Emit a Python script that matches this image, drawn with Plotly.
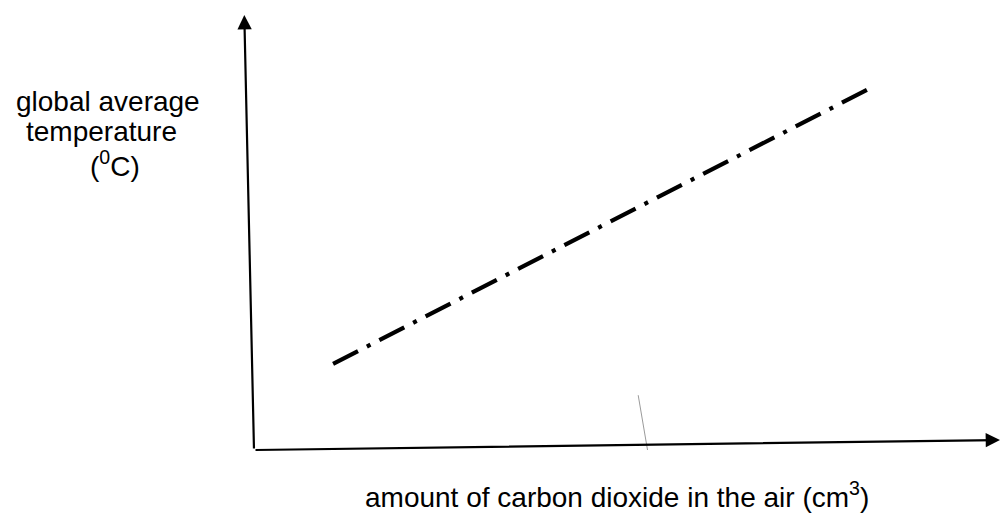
import plotly.graph_objects as go

# Sketch of the trend: CO2 amount (arbitrary units) vs global average temperature
co2_amount = [1.06, 8.32]
avg_temperature = [1.98, 8.37]

x_label = "amount of carbon dioxide in the air (cm<sup>3</sup>)"
y_label_lines = ["global average", "temperature", "(<sup>0</sup>C)"]

X_MAX, Y_MAX = 10, 10
FONT = "Liberation Sans, Arial, sans-serif"

fig = go.Figure()

fig.add_trace(go.Scatter(
    x=co2_amount, y=avg_temperature, mode="lines",
    line=dict(color="black", width=4.2, dash="28px,10px,4px,10px"),
    hoverinfo="skip", showlegend=False,
))

# Hand-drawn style axes with arrowheads
axis_arrow = dict(text="", showarrow=True, xref="x", yref="y", axref="x", ayref="y",
                  arrowhead=2, arrowsize=1.3, arrowwidth=2.2, arrowcolor="black",
                  standoff=0, startstandoff=0)
fig.add_annotation(x=X_MAX, y=0.23, ax=0, ay=0, **axis_arrow)
fig.add_annotation(x=-0.13, y=Y_MAX, ax=0, ay=0, **axis_arrow)

# faint pencil stroke crossing the x axis
fig.add_shape(type="line", x0=5.15, y0=1.26, x1=5.28, y1=-0.05,
              xref="x", yref="y", line=dict(color="#9a9a9a", width=1))

# axis titles
fig.add_annotation(text=x_label, xref="paper", yref="paper", x=0.4866, y=-0.1034,
                   showarrow=False, xanchor="center", yanchor="middle",
                   font=dict(family=FONT, size=28, color="black"))
for txt, px, py in zip(y_label_lines, [-0.1957, -0.2038, -0.186], [0.802, 0.733, 0.657]):
    fig.add_annotation(text=txt, xref="paper", yref="paper", x=px, y=py,
                       showarrow=False, xanchor="center", yanchor="middle",
                       font=dict(family=FONT, size=28, color="black"))

fig.update_xaxes(range=[0, X_MAX], visible=False, fixedrange=True)
fig.update_yaxes(range=[0, Y_MAX], visible=False, fixedrange=True)
fig.update_layout(
    width=1002, height=528,
    margin=dict(l=254, r=2, t=15, b=78),
    paper_bgcolor="white", plot_bgcolor="white",
    showlegend=False,
)

fig.write_html("out.html", config={"displayModeBar": False})
